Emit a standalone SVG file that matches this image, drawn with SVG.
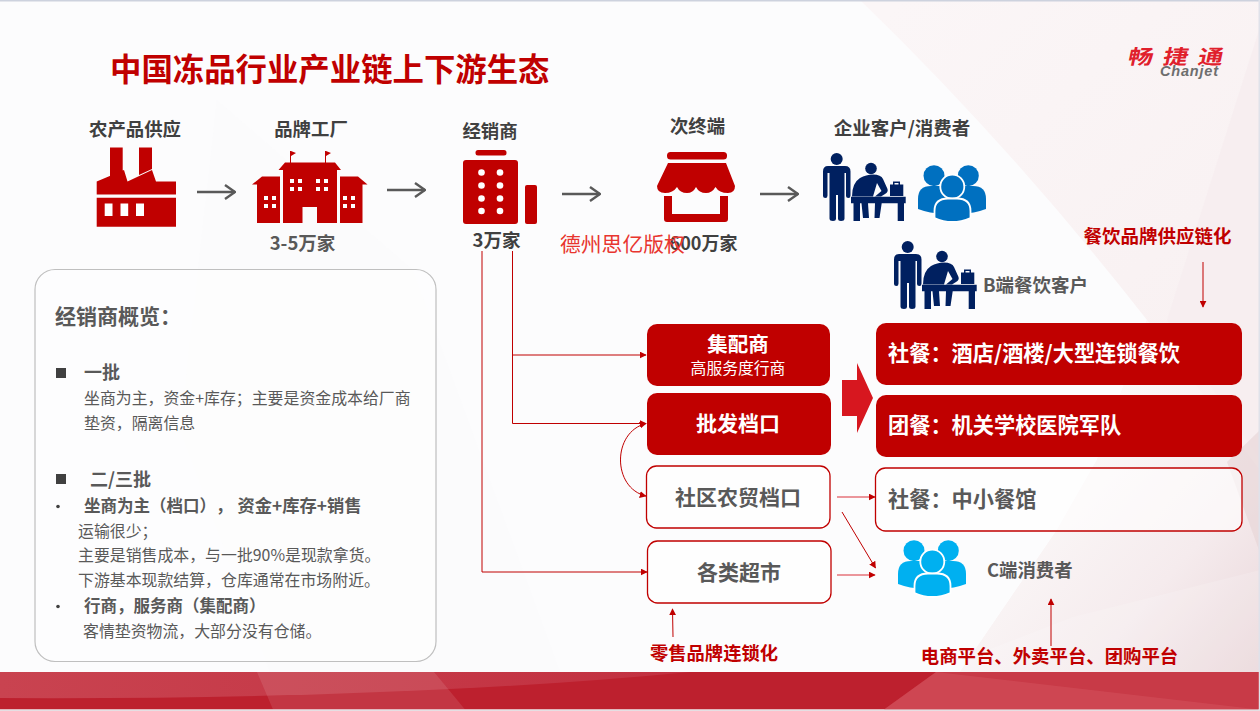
<svg xmlns="http://www.w3.org/2000/svg" width="1260" height="711" viewBox="0 0 1260 711">
<style>
text{font-family:"Noto Sans CJK SC","Liberation Sans",sans-serif;text-spacing-trim:space-all}
.b{font-weight:700}
.dk{fill:#404040}
.gr{fill:#595959}
.rd{fill:#c00000}
.wh{fill:#fff}
.m{text-anchor:middle}
.icon{fill:#c00000}
.win{fill:#fff}
.c{fill:none;stroke:#c00000;stroke-width:1}
.c2{fill:none;stroke:#d9303a;stroke-width:1.2}
.ga{fill:none;stroke:#595959;stroke-width:2.6}
.box{fill:#c00000}
.obox{fill:#fff;fill-opacity:.6;stroke:#c00000;stroke-width:1.3}
.p{font-size:15.900px;fill:#595959}
.pb{font-size:16.500px;font-weight:700;fill:#595959}
.ph{font-size:18px;font-weight:700;fill:#595959}
</style>
<defs>
<linearGradient id="pk" gradientUnits="userSpaceOnUse" x1="900" y1="0" x2="1260" y2="400"><stop offset="0" stop-color="#fbf6f7"/><stop offset="1" stop-color="#f8f0f1"/></linearGradient>
<linearGradient id="pk2" gradientUnits="userSpaceOnUse" x1="1040" y1="480" x2="1260" y2="672"><stop offset="0" stop-color="#fbf8f8"/><stop offset=".55" stop-color="#f5ebed"/><stop offset="1" stop-color="#e9d6d9"/></linearGradient>
<linearGradient id="bandTop" x1="0" y1="0" x2="1" y2="0"><stop offset="0" stop-color="#c94350"/><stop offset="1" stop-color="#c23040"/></linearGradient>
<marker id="ar" viewBox="0 0 10 10" refX="9" refY="5" markerWidth="7" markerHeight="7" markerUnits="userSpaceOnUse" orient="auto"><path d="M0 0L10 5L0 10Z" fill="#c00000"/></marker>
<marker id="as" viewBox="0 0 10 10" refX="1" refY="5" markerWidth="7" markerHeight="7" markerUnits="userSpaceOnUse" orient="auto"><path d="M10 0L0 5L10 10Z" fill="#c00000"/></marker>
<marker id="ag" viewBox="0 0 12 16" refX="11" refY="8" markerWidth="12" markerHeight="16" markerUnits="userSpaceOnUse" orient="auto"><path d="M1 1L11 8L1 15" fill="none" stroke="#595959" stroke-width="2.400"/></marker>
<symbol id="biz" viewBox="0 0 83 68" overflow="visible">
<g fill="#002060">
<circle cx="13.700" cy="6" r="6"/>
<path d="M5 13H22Q27.500 13 27.500 18.500V42.500Q27.500 45 25.500 45Q23 45 23 42.500V20H21.500V65.500Q21.500 68 18 68Q15 68 15 65.500V42H13V65.500Q13 68 10 68Q6.500 68 6.500 65.500V20H4.500V42.500Q4.500 45 2.500 45Q0 45 0 42.500V18.500Q0 13 5 13Z"/>
<circle cx="48" cy="15.500" r="5.800"/>
<path d="M29 43.500Q29 30 37 25Q43 21.500 50 21.500Q58 21.500 60 26L64.500 36Q65.500 39 62 41L58 43.500H52L58.500 38L54 30L50 43.500Z"/>
<path d="M28 43.700H82.700V50.300H81V68H74.700V50.300H58.700L56.500 65H51.500L52 50.300H45L46 65H40L38.500 50.300H37V68H30.500V50.300H28Z"/>
<path d="M67 43V31.500H70V28.500H77V31.500H80.300V43ZM71.500 30V31.500H75.500V30Z"/>
</g>
</symbol>
<symbol id="grp" viewBox="0 0 68 58" overflow="visible">
<circle cx="16" cy="10.700" r="10.500"/>
<circle cx="50.300" cy="10.700" r="10.500"/>
<path d="M0 44V34Q0 21 13 21H24Q34 21 34 34V48Q16 50 0 44Z"/>
<path d="M68 44V34Q68 21 55 21H44Q34 21 34 34V48Q52 50 68 44Z"/>
<circle cx="34.300" cy="21.700" r="12" stroke="#fff" stroke-width="1.800"/>
<path d="M16.500 53V46Q16.500 33.500 30 33.500H39Q52.500 33.500 52.500 46V53Q34 61 16.500 53Z" stroke="#fff" stroke-width="1.800"/>
</symbol>
</defs>

<g id="background">
<rect width="1260" height="711" fill="#fcfcfd"/>
<polygon points="217,100 413,270 560,672 270,672 180,430" fill="#fafafb" opacity=".6"/>
<path d="M860 0H1260V672H960L1057 530L1097 460L1147 320Q1010 145 860 0Z" fill="url(#pk)"/>
<polygon points="1260,27 1167,320 1260,460" fill="#f7eef0"/>
<path d="M1147 320L1260 470V672H960L1057 530L1097 460Z" fill="url(#pk2)"/>
<polygon points="1227,462 1260,553 1260,430" fill="#e6d3d6" opacity=".6"/>
<path d="M1073 617L1260 570V672H930Z" fill="#fff" opacity=".16"/>
<rect x="0" y="0" width="1260" height="1.500" fill="#cdd2de"/>
<rect x="1258.500" y="0" width="1.500" height="711" fill="#dfe2ea"/>
<rect x="0" y="672" width="1258.500" height="37.500" fill="#bd202e"/>
<path d="M0 672H690Q400 700 0 698Z" fill="url(#bandTop)"/>
<polygon points="257,672 434,672 465,709.500 273,709.500" fill="#fff" opacity=".1"/>
<polygon points="936,672 1258.500,672 1258.500,709.500 884,709.500" fill="#c83a47"/>
<polygon points="936,672 1258.500,709.500 884,709.500" fill="#d65a65" opacity=".4"/>
<rect x="0" y="709.500" width="1260" height="1.500" fill="#e5dfe3"/>
</g>

<g id="title"><text x="110" y="80.500" font-size="31.400" class="b rd">中国冻品行业产业链上下游生态</text></g>
<g id="logo">
<text transform="translate(1127 63.500) skewX(-12) scale(1.250 1)" x="0 28 56" y="0" font-size="20" class="b" fill="#e0202c">畅捷通</text>
<text x="1160" y="76" font-size="14.500" font-style="italic" fill="#6e6e6e" font-weight="700" letter-spacing=".8" style="font-family:'Liberation Sans',sans-serif">Chanjet</text>
</g>

<g id="connectors">
<path class="ga" marker-end="url(#ag)" d="M197 192H235"/>
<path class="ga" marker-end="url(#ag)" d="M387 190H425"/>
<path class="ga" marker-end="url(#ag)" d="M562 194H600"/>
<path class="ga" marker-end="url(#ag)" d="M760 194H798"/>
<path class="c" marker-end="url(#ar)" d="M512.500 251V355H646"/>
<path class="c" marker-end="url(#ar)" d="M512.500 355V423.500H646"/>
<path class="c" marker-end="url(#ar)" d="M482 251V572H647"/>
<path class="c" marker-start="url(#as)" marker-end="url(#ar)" d="M646 423.500C612 432 612 488 646 496"/>
<path class="c2" marker-end="url(#ar)" d="M837 497H875"/>
<path class="c" marker-end="url(#ar)" d="M842 512L875.500 568"/>
<path class="c2" marker-end="url(#ar)" d="M837 575H875"/>
<path class="c" marker-end="url(#ar)" d="M673 637L672.500 609"/>
<path class="c" marker-end="url(#ar)" d="M1051 646V599"/>
<path class="c" marker-end="url(#ar)" d="M1203 262V307"/>
<polygon id="big-arrow" points="842,380 857,380 857,363 873,398 857,433 857,416 842,416" fill="#d7171f"/>
</g>

<g id="n-farm">
<text x="135" y="136" font-size="18.400" class="b dk m">农产品供应</text>
<path class="icon" d="M110 147.500H122.700V172L110 178ZM139 147.500H152V169L139 175ZM96.700 181.500L124 170L127.500 181.500L152 170L156 181.500H176V194.500H96.700ZM96.700 197.700H176V226.700H96.700Z"/>
<path class="win" d="M104.700 203.500H112.500V216H104.700ZM120.500 203.500H128.200V216H120.500ZM136 203.500H144V216H136Z"/>
</g>
<g id="n-factory">
<text x="311" y="136" font-size="18.400" class="b dk m">品牌工厂</text>
<path class="icon" d="M278.500 170L285 162.500H335L341 170H337V223H317V207H302.500V223H283V170ZM252 184.500L262 176.500H280V223H257V184.500ZM340 176.500H358L367.500 184.500H362.500V223H340ZM290 151H291V162.500H290ZM325 151H326V162.500H325Z"/>
<path class="icon" d="M291 151L296 153L291 156ZM326 151L331 153L326 156Z"/>
<path class="win" d="M290 179h4v4h-4zM298 179h4v4h-4zM290 187h4v4h-4zM298 187h4v4h-4zM316 179h4v4h-4zM324 179h4v4h-4zM316 187h4v4h-4zM324 187h4v4h-4zM264 196h4v4h-4zM272 196h4v4h-4zM264 204h4v4h-4zM272 204h4v4h-4zM343 196h4v4h-4zM351 196h4v4h-4zM343 204h4v4h-4zM351 204h4v4h-4z"/>
<text x="302.500" y="250" font-size="18.500" class="b gr m">3-5万家</text>
</g>
<g id="n-dealer">
<text x="490" y="138" font-size="18.400" class="b dk m">经销商</text>
<rect class="icon" x="475.500" y="150" width="31" height="5.500" rx="2.500"/>
<rect class="icon" x="463" y="160" width="55" height="64" rx="3"/>
<rect class="icon" x="525" y="185" width="12" height="39" rx="2"/>
<g class="win"><circle cx="481.500" cy="172.500" r="3.300"/><circle cx="500" cy="172.500" r="3.300"/><circle cx="481.500" cy="185.500" r="3.300"/><circle cx="500" cy="185.500" r="3.300"/><circle cx="481.500" cy="198.500" r="3.300"/><circle cx="500" cy="198.500" r="3.300"/><circle cx="481.500" cy="211" r="3.300"/><circle cx="500" cy="211" r="3.300"/></g>
<text x="496.500" y="247" font-size="18.500" class="b dk m">3万家</text>
</g>
<g id="n-terminal">
<text x="697.500" y="133" font-size="18.400" class="b dk m">次终端</text>
<rect class="icon" x="667" y="152" width="60" height="7.500" rx="3.500"/>
<path class="icon" d="M668 163H726L735 186Q735 193 728 193Q719 193 715.500 187Q712 193 706 193Q699 193 696 187Q693 193 687 193Q680 193 677 187Q673 193 665 193Q657 193 657 186Z"/>
<path class="icon" d="M664 196H672V214H720V196H728V219Q728 222 725 222H667Q664 222 664 219Z"/>
<text x="703.500" y="250" font-size="18" class="b dk m">600万家</text>
</g>
<g id="watermark"><text x="560" y="252" font-size="20.800" fill="#e8352f">德州思亿版权</text></g>
<g id="n-customer">
<text x="902" y="135" font-size="18.500" class="b dk m">企业客户/消费者</text>
<use href="#biz" x="823" y="153" width="83" height="68"/>
<use href="#grp" x="918" y="165" width="68" height="58" fill="#0070c0"/>
</g>
<g id="n-b">
<use href="#biz" x="894" y="241" width="83" height="68"/>
<text x="983" y="292" font-size="18.500" class="b gr">B端餐饮客户</text>
</g>
<g id="n-supply"><text x="1157.500" y="243" font-size="18.500" class="b rd m">餐饮品牌供应链化</text></g>

<g id="n-jps"><rect class="box" x="647" y="324" width="183" height="62" rx="10"/>
<text x="738" y="352" font-size="20.500" class="b wh m">集配商</text><text x="738" y="374" font-size="15.800" class="wh m">高服务度行商</text></g>
<g id="n-pf"><rect class="box" x="647" y="393" width="184" height="62" rx="10"/>
<text x="738" y="431" font-size="21" class="b wh m">批发档口</text></g>
<g id="n-sq"><rect class="obox" x="646.500" y="466" width="183.500" height="62" rx="10"/>
<text x="738" y="505" font-size="21" class="b gr m">社区农贸档口</text></g>
<g id="n-cs"><rect class="obox" x="647.500" y="541" width="183.500" height="62" rx="10"/>
<text x="739" y="580" font-size="21" class="b gr m">各类超市</text></g>
<g id="n-sc1"><rect class="box" x="876" y="323" width="366" height="62" rx="10"/>
<text x="888" y="361" font-size="21.200" class="b wh">社餐：酒店/酒楼/大型连锁餐饮</text></g>
<g id="n-tc"><rect class="box" x="876" y="395" width="366" height="62" rx="10"/>
<text x="888" y="433" font-size="21.200" class="b wh">团餐：机关学校医院军队</text></g>
<g id="n-sc2"><rect class="obox" x="875.500" y="468" width="366.500" height="63" rx="10"/>
<text x="888" y="507" font-size="21.200" class="b gr">社餐：中小餐馆</text></g>
<g id="n-c">
<use href="#grp" x="898" y="540" width="68" height="58" fill="#00b0f0"/>
<text x="987" y="577" font-size="18.400" class="b gr">C端消费者</text>
</g>
<g id="n-retail"><text x="714" y="660" font-size="18.300" class="b rd m">零售品牌连锁化</text></g>
<g id="n-platform"><text x="1049.500" y="663" font-size="18.400" class="b rd m">电商平台、外卖平台、团购平台</text></g>

<g id="n-panel">
<rect x="35" y="269.500" width="401" height="392" rx="20" fill="#fff" fill-opacity=".45" stroke="#bfbfbf" stroke-width="1.200"/>
<text x="55" y="324" font-size="21" class="b gr">经销商概览：</text>
<rect x="56" y="368" width="10" height="10" fill="#404040"/>
<text x="84" y="379" class="ph">一批</text>
<text x="84" y="404" class="p">坐商为主，资金+库存；主要是资金成本给厂商</text>
<text x="84" y="429" class="p">垫资，隔离信息</text>
<rect x="56" y="474" width="10" height="10" fill="#404040"/>
<text x="90" y="486" class="ph">二/三批</text>
<circle cx="58" cy="506.500" r="1.800" fill="#404040"/>
<text x="84" y="512" class="pb">坐商为主（档口），<tspan x="237.500" font-size="17.300">资金+库存+销售</tspan></text>
<text x="78" y="537" class="p">运输很少；</text>
<text x="78" y="561" class="p">主要是销售成本，与一批90%是现款拿货。</text>
<text x="78" y="586" class="p">下游基本现款结算，仓库通常在市场附近。</text>
<circle cx="58" cy="606.500" r="1.800" fill="#404040"/>
<text x="84" y="612" class="pb">行商，服务商（集配商）</text>
<text x="83" y="637" class="p">客情垫资物流，大部分没有仓储。</text>
</g>
</svg>
